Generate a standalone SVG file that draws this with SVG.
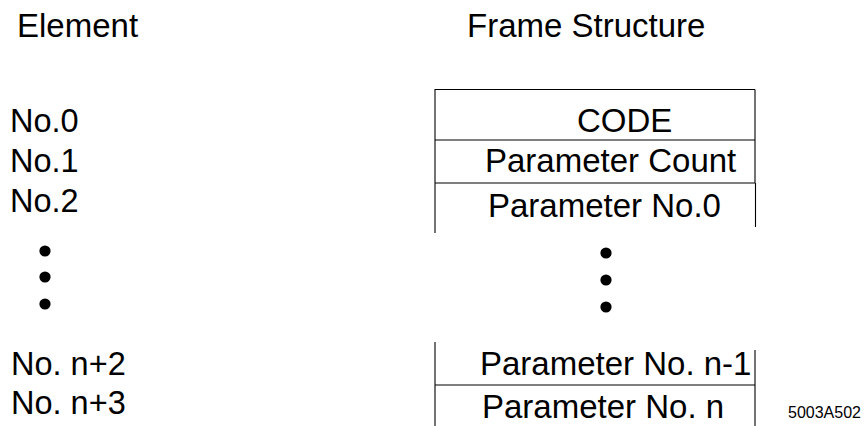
<svg xmlns="http://www.w3.org/2000/svg" width="864" height="426" viewBox="0 0 864 426">
<style>
text{font-family:"Liberation Sans",Arial,sans-serif;font-size:33px;fill:#000}
.lbl{font-size:32.5px}
.small{font-size:16px}
.ln{stroke:#000;stroke-width:1.1;fill:none}
.dot{fill:#000}
</style>
<rect width="864" height="426" fill="#fff"/>
<g id="headers">
<text x="17" y="37">Element</text>
<text x="467" y="37">Frame Structure</text>
</g>
<g id="element-labels">
<text class="lbl" x="10" y="132">No.0</text>
<text class="lbl" x="10" y="172">No.1</text>
<text class="lbl" x="10" y="212">No.2</text>
<text class="lbl" x="11" y="375">No. n+2</text>
<text class="lbl" x="11" y="414">No. n+3</text>
</g>
<g id="left-dots">
<circle class="dot" cx="45" cy="251" r="5.6"/>
<circle class="dot" cx="45" cy="277" r="5.6"/>
<circle class="dot" cx="45" cy="304" r="5.6"/>
</g>
<g id="right-dots">
<circle class="dot" cx="606" cy="253" r="5.6"/>
<circle class="dot" cx="606" cy="280" r="5.6"/>
<circle class="dot" cx="606" cy="307" r="5.6"/>
</g>
<g id="cell-code">
<path class="ln" d="M435 89.5H755M755 89.5V140"/>
<text x="577" y="132">CODE</text>
</g>
<g id="cell-count">
<path class="ln" d="M435 140H755M755 140V183"/>
<text x="485" y="172">Parameter Count</text>
</g>
<g id="cell-param0">
<path class="ln" d="M435 183H755M755.5 183V227"/>
<text x="488" y="217">Parameter No.0</text>
</g>
<g id="frame-left-top">
<path class="ln" d="M435 89V233"/>
</g>
<g id="cell-param-n1">
<path class="ln" d="M435 342V426M755 350V385"/>
<text x="480" y="375">Parameter No. n-1</text>
</g>
<g id="cell-param-n">
<path class="ln" d="M435 385H755M755 385V426"/>
<text x="482" y="418">Parameter No. n</text>
</g>
<g id="connectors"></g>
<text class="small" x="788" y="418">5003A502</text>
</svg>
